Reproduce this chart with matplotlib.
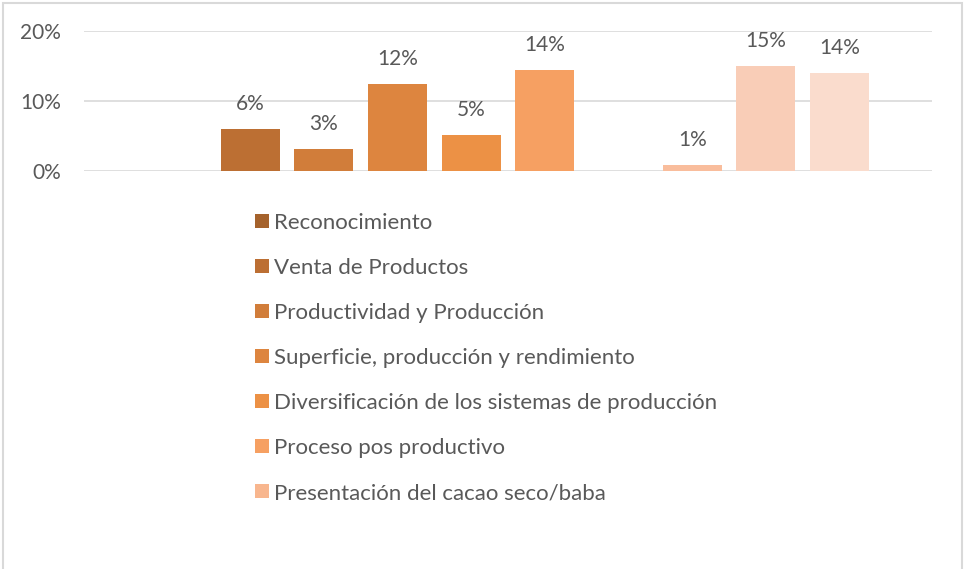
import matplotlib
matplotlib.use("Agg")
import matplotlib.pyplot as plt
import matplotlib.patches as mpatches
import numpy as np

plt.rcParams['font.family'] = ['Lato', 'DejaVu Sans']

text_col = "#595959"
grid_col = "#D9D9D9"

# one category, ten series; the legend lists the first seven
series_names = [
    "Reconocimiento",
    "Venta de Productos",
    "Productividad y Producción",
    "Superficie, producción y rendimiento",
    "Diversificación de los sistemas de producción",
    "Proceso pos productivo",
    "Presentación del cacao seco/baba",
]
shares = [0.0, 6.0, 3.1, 12.4, 5.1, 14.4, 0.0, 0.8, 15.0, 14.0]
series_colors = ["#A5622C", "#BC6F33", "#D17D3A", "#DD853F", "#EC9145",
                 "#F6A062", "#F8B68E", "#F9BD9C", "#F9CDB7", "#FADCCD"]
y_ticks = [0, 10, 20]

W, H = 964, 569
fig = plt.figure(figsize=(W / 100, H / 100), dpi=100)

ax = fig.add_axes([84 / W, 1 - 170.7 / H, (932 - 84) / W, (170.7 - 31) / H])
ax.set_xlim(-1.253, 10.253)
ax.set_ylim(0, 20)

handles = []
for i, (v, c) in enumerate(zip(shares, series_colors)):
    b = ax.bar(i, v, width=0.8, color=c, zorder=3)
    handles.append(b)
    if v > 0:
        ax.annotate(f"{v:.0f}%", (i, v), xytext=(0, 13.5), textcoords="offset points",
                    ha="center", va="baseline", fontsize=15, color=text_col)

ax.set_yticks(y_ticks)
ax.set_yticklabels([f"{t}%" for t in y_ticks])
ax.tick_params(axis="y", length=0, pad=16.5, labelsize=15, labelcolor=text_col)
ax.set_xticks([])
ax.grid(axis="y", color=grid_col, lw=1.2, zorder=0)
for s in ax.spines.values():
    s.set_visible(False)

leg = fig.legend(handles[:len(series_names)], series_names,
                 loc="upper left", bbox_to_anchor=(255 / W, 1 - 213 / H),
                 frameon=False, fontsize=16, labelcolor=text_col,
                 handlelength=0.63, handleheight=0.63, handletextpad=0.22,
                 labelspacing=1.125, borderaxespad=0, borderpad=0)

# chart frame
fig.patches.append(mpatches.Rectangle((2.5 / W, -0.02), (W - 5) / W, 1.02 - 2.5 / H,
                                      transform=fig.transFigure, fill=False,
                                      edgecolor=grid_col, lw=1.5))

fig.savefig("out.png", dpi=100, facecolor="white")
